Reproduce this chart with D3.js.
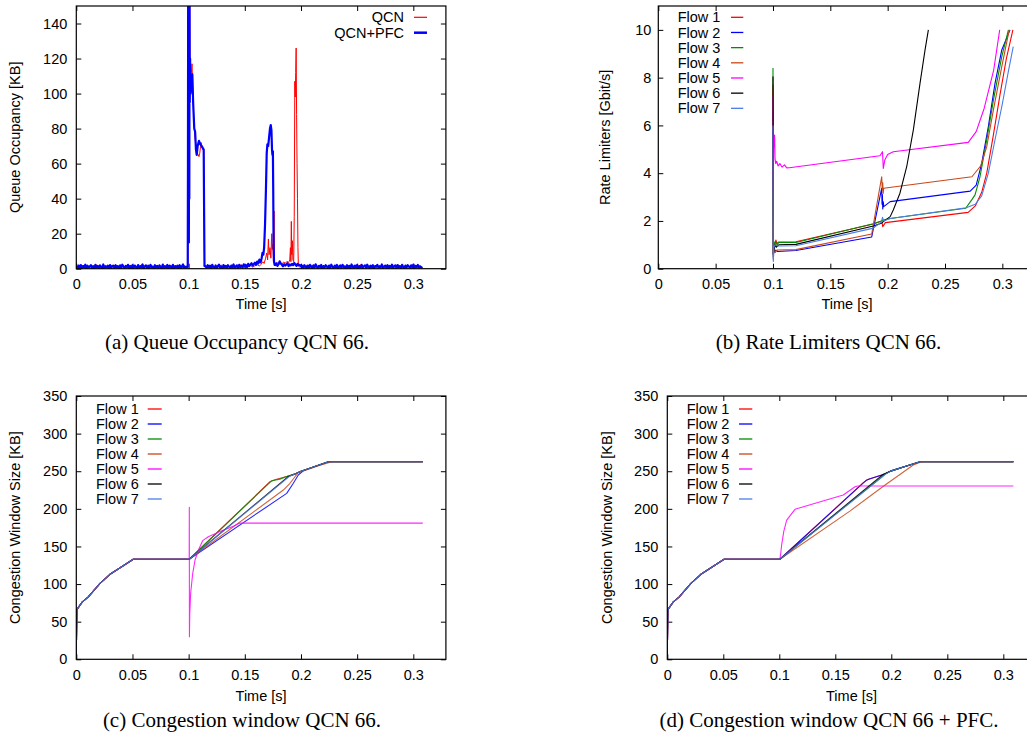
<!DOCTYPE html>
<html>
<head>
<meta charset="utf-8">
<script src="https://cdn.jsdelivr.net/npm/d3@7"></script>
<style>
  body { margin: 0; background: #fff; }
  svg text { font-family: "Liberation Sans", Arial, Helvetica, sans-serif; fill: #000; }
  svg text.caption { font-family: "Liberation Serif", "Times New Roman", serif; }
</style>
</head>
<body>
<script>
// ---------- shared axis values ----------
const timeMax = 0.329;
const timeTicks = [0, 0.05, 0.1, 0.15, 0.2, 0.25, 0.3];
const queueTicks = [0, 20, 40, 60, 80, 100, 120, 140];
const rateTicks = [0, 2, 4, 6, 8, 10];
const cwndTicks = [0, 50, 100, 150, 200, 250, 300, 350];

// ---------- (a) queue occupancy [KB] ----------
// quiet stretches are sampled at a fixed interval from a start time
const pfcStep = 0.001;
const pfcQuietA = [ // from 0.000 s
  1.2,0.3,1.8,0.6,2.1,0.4,1.5,0.9,2.3,0.2,1.7,0.8,1.1,2.0,0.5,1.4,0.3,2.2,0.7,1.6,
  0.4,1.9,1.0,0.2,2.4,0.6,1.3,0.9,1.8,0.3,2.1,0.5,1.2,1.7,0.4,2.0,0.8,1.5,0.2,1.9,
  0.6,2.3,1.1,0.4,1.6,0.9,2.2,0.3,1.4,0.7,2.0,0.5,1.8,1.0,0.3,2.1,0.6,1.5,0.8,2.4,
  0.2,1.3,1.9,0.5,1.7,0.4,2.2,0.9,1.2,0.3,2.0,0.7,1.6,0.4,1.9,1.1,0.3,2.3,0.6,1.4,
  0.8,2.1,0.2,1.7,1.0,0.5,2.2,0.4,1.5,0.9,1.8,0.3,2.0,0.6,1.3,2.4,0.5,1.1,0.7,1.6];
const pfcBurst1 = [
  [0.0992,1.0],[0.0994,60],[0.0996,175],[0.0998,30],[0.1000,172],[0.1002,15],[0.1004,168],
  [0.1006,40],[0.1008,160],[0.1010,95],[0.1013,120],[0.1016,100],[0.1025,108],[0.1033,111],
  [0.1040,95],[0.1050,80],[0.1058,78],[0.1065,68],[0.1072,65],[0.1080,70],[0.1092,73],
  [0.1105,71],[0.1116,70],[0.1125,69],[0.1134,68],[0.1138,30],[0.1141,1.5]];
const pfcQuietB = [ // from 0.115 s
  1.5,0.4,2.0,0.8,1.7,0.3,2.2,1.0,0.6,1.9,0.4,1.4,2.3,0.7,1.2,0.3,2.1,0.9,1.6,0.5,
  2.0,1.1,0.4,1.8,0.8,2.4,0.6,1.3,1.9,0.5,2.2,1.0,1.6,0.7,2.5,1.2,2.0,0.9,2.8,1.5,
  2.3,3.1,1.8,2.6,3.5,2.2,4.1,3.0,5.2,3.6];
const pfcBurst2 = [
  [0.1650,6],[0.1657,9],[0.1665,8],[0.1672,12],[0.1680,25],[0.1688,45],[0.1695,66],
  [0.1701,71],[0.1708,70],[0.1716,75],[0.1724,80],[0.1731,82],[0.1737,79],[0.1742,68],
  [0.1746,65],[0.1750,67],[0.1753,45],[0.1756,15],[0.1760,4],[0.1765,2.2]];
const pfcQuietC = [ // from 0.177 s
  2.1,3.0,1.6,2.5,4.2,2.9,2.2,1.4,2.6,1.8,2.3,3.1,1.5,2.4,1.9,2.7,2.0,3.3,2.5,1.6,
  2.8,1.9,2.2,1.3,1.7,0.6,2.0,1.1,0.4,1.8,0.7,2.2,1.4,0.3,1.9,0.8,2.5,1.2,0.5,1.6,
  0.9,2.1,0.4,1.5,0.7,2.0,1.2,0.3,1.8,0.6,2.3,1.0,0.5,1.7,0.8,2.1,0.3,1.4,1.9,0.6,
  2.2,0.9,1.3,0.4,2.0,0.7,1.6,0.3,2.4,1.1,0.6,1.8,0.9,2.1,0.4,1.5,0.8,2.2,0.5,1.3,
  1.9,0.6,2.3,1.0,0.4,1.7,0.8,2.0,0.3,1.5,1.1,2.2,0.6,1.4,0.9,2.4,0.5,1.2,1.8,0.7,
  2.0,0.4,1.6,0.9,2.3,0.6,1.3,1.9,0.3,2.1,0.8,1.5,0.5,2.2,1.0,0.4,1.8,0.7,2.0,1.2,
  0.5,1.9,0.8,2.3,0.4,1.6,1.0,2.1,0.6,1.4,0.9,0.3];

const qcnStep = 0.002;
const qcnQuietA = [ // from 0.000 s
  0.8,1.6,0.4,2.0,1.1,0.5,1.8,0.7,1.3,2.2,0.3,1.5,0.9,1.9,0.6,1.2,2.1,0.4,1.7,1.0,
  0.5,1.8,0.8,1.4,2.0,0.3,1.6,0.9,1.1,2.3,0.6,1.5,0.4,1.9,1.2,0.7,2.1,0.5,1.3,1.8,
  0.9,0.4,2.0,1.1,0.6,1.7,1.4,0.3,1.9,0.8];
const qcnBurst1 = [
  [0.0993,1],[0.0995,168],[0.0999,20],[0.1002,172],[0.1006,35],[0.1009,150],[0.1013,100],
  [0.1020,108],[0.1030,117],[0.1036,104],[0.1045,86],[0.1058,74],[0.1072,67],[0.1085,65],
  [0.1092,64],[0.1099,66],[0.1106,70],[0.1112,72],[0.1120,69],[0.1128,68],[0.1134,67],
  [0.1138,30],[0.1142,1.5]];
const qcnQuietB = [ // from 0.115 s
  1.4,0.6,2.0,1.1,0.4,1.7,0.9,2.2,0.5,1.3,1.8,0.7,2.1,1.0,0.4,1.6,2.3,0.8,1.5,1.2,
  2.0,0.9,1.7,2.4,1.5];
const qcnBurst2 = [
  [0.1645,2.5],[0.1660,4],[0.1672,3],[0.1685,6],[0.1695,9],[0.1703,5],[0.1710,17],
  [0.1716,8],[0.1724,12],[0.1732,6],[0.1740,20],[0.1745,11],[0.1750,14],[0.1755,4],
  [0.1760,33],[0.1764,3],[0.1772,2.2],[0.1785,3.6],[0.1800,2.8],[0.1815,4.0],[0.1830,2.6],
  [0.1845,3.8],[0.1860,3.1],[0.1875,4.2],[0.1890,3.5],[0.1900,5],[0.1906,12],[0.1910,4],
  [0.1914,27],[0.1918,8],[0.1923,16],[0.1928,5],[0.1935,4],[0.1940,30],[0.1945,107],
  [0.1949,98],[0.1953,112],[0.1957,126],[0.1961,88],[0.1965,60],[0.1969,40],[0.1973,12],
  [0.1977,1.5]];
const qcnQuietC = [ // from 0.199 s
  0.9,1.6,0.5,2.0,1.2,0.4,1.8,0.7,1.4,2.1,0.6,1.1,1.9,0.3,1.5,0.8,2.2,1.0,0.5,1.7,
  1.3,0.4,2.0,0.9,1.6,0.6,1.2,2.3,0.7,1.4,0.5,1.8,1.1,0.3,2.0,0.8,1.5,1.0,0.6,1.9,
  1.2,0.4,1.7,0.9,2.1,0.5,1.3,0.8,1.6,0.4,1.9,1.1,0.7,1.4,0.6];

// ---------- (b) rate limiters [Gbit/s], [time, rate] ----------
const rateFlow1 = [[0.1000,7.7],[0.1003,0.6],[0.1008,1.1],[0.1015,0.9],[0.1025,1.2],[0.1035,1.05],[0.1050,1.12],[0.1200,1.13],[0.1875,1.87],[0.1948,2.0],[0.1957,1.76],[0.1980,1.93],[0.2702,2.36],[0.2764,2.63],[0.2820,3.2],[0.2864,4.0],[0.2922,5.6],[0.2980,7.3],[0.3035,8.8],[0.3092,10]];
const rateFlow2 = [[0.1000,6.6],[0.1003,0.4],[0.1008,0.9],[0.1015,0.7],[0.1025,0.78],[0.1040,0.72],[0.1200,0.76],[0.1861,1.33],[0.1948,3.37],[0.1951,2.7],[0.1954,3.1],[0.1957,2.5],[0.1962,2.8],[0.1966,2.6],[0.2022,2.81],[0.2720,3.25],[0.2772,3.5],[0.2820,4.41],[0.2878,5.95],[0.2936,7.76],[0.2995,9.16],[0.3067,10]];
const rateFlow3 = [[0.1000,8.4],[0.1003,0.5],[0.1008,1.0],[0.1020,1.15],[0.1035,1.0],[0.1050,1.1],[0.1200,1.1],[0.1875,1.88],[0.1945,2.0],[0.1970,2.05],[0.2022,2.1],[0.2680,2.53],[0.2733,2.88],[0.2762,3.09],[0.2805,3.85],[0.2864,5.39],[0.2922,7.06],[0.2995,8.88],[0.3053,10]];
const rateFlow4 = [[0.1000,7.5],[0.1003,0.5],[0.1008,0.85],[0.1020,0.68],[0.1035,0.78],[0.1200,0.8],[0.1861,1.45],[0.1948,3.85],[0.1953,3.3],[0.1957,3.6],[0.1961,3.15],[0.1965,3.37],[0.2735,3.85],[0.2812,4.31],[0.2864,5.11],[0.2922,6.65],[0.2995,8.46],[0.3060,10]];
const rateFlow5 = [[0.1000,7.2],[0.1003,3.2],[0.1006,5.5],[0.1010,5.1],[0.1014,5.6],[0.1018,4.6],[0.1024,4.4],[0.1032,4.5],[0.1045,4.3],[0.1060,4.4],[0.1080,4.25],[0.1100,4.35],[0.1120,4.22],[0.1143,4.23],[0.1933,4.73],[0.1955,4.9],[0.1962,4.2],[0.1975,4.55],[0.2000,4.78],[0.2049,4.9],[0.2703,5.29],[0.2772,5.74],[0.2842,6.72],[0.2925,8.33],[0.2977,10]];
const rateFlow6 = [[0.1000,8.05],[0.1003,0.6],[0.1008,0.75],[0.1018,1.0],[0.1030,0.9],[0.1050,1.0],[0.1200,1.02],[0.1875,1.79],[0.1945,1.9],[0.1962,1.97],[0.2022,2.18],[0.2049,2.46],[0.2107,3.16],[0.2166,4.27],[0.2224,5.81],[0.2282,7.76],[0.2326,9.16],[0.2355,10]];
const rateFlow7 = [[0.1000,6.0],[0.1003,0.3],[0.1008,0.9],[0.1018,1.0],[0.1040,0.95],[0.1200,0.96],[0.1875,1.7],[0.1945,1.95],[0.1955,2.15],[0.1965,2.0],[0.2022,2.1],[0.2685,2.55],[0.2764,2.7],[0.2820,3.05],[0.2878,4.0],[0.2936,5.4],[0.3000,6.9],[0.3050,8.2],[0.3095,9.3]];

// ---------- (c), (d) congestion window [KB], [time, size] ----------
// slow-start ramp shared by every flow, up to the start of the incast at 0.1 s
const cwndRamp = [[0,5],[0.0005,66],[0.0052,76],[0.0107,83],[0.0211,101],[0.0300,113],[0.0404,123],[0.0507,133],[0.1005,133]];

const cwndQcn1 = [[0.1724,236],[0.1775,239],[0.1873,243],[0.1950,246.5],[0.2000,250],[0.2244,262.7],[0.3084,262.7]];
const cwndQcn2 = [[0.1873,220.6],[0.1932,234],[0.1976,245],[0.2021,250.5],[0.2244,262.7],[0.3084,262.7]];
const cwndQcn3 = [[0.1740,237.4],[0.1813,239.5],[0.1873,243],[0.1950,246.5],[0.2000,250],[0.2244,262.7],[0.3084,262.7]];
const cwndQcn4 = [[0.1843,225],[0.1902,234],[0.1947,242.7],[0.1976,248],[0.2150,257],[0.2275,262.7],[0.3084,262.7]];
const cwndQcn5 = [[0.1006,202],[0.1007,30],[0.1010,60],[0.1018,88],[0.1036,114],[0.1057,132],[0.1086,145],[0.1125,157.7],[0.1175,163],[0.1280,170],[0.1398,177],[0.1451,181],[0.3084,181]];
const cwndQcn6 = [[0.1888,243],[0.1950,246.5],[0.2000,250],[0.2244,262.7],[0.3084,262.7]];
const cwndQcn7 = [[0.1900,243.5],[0.1950,246.5],[0.2000,250],[0.2244,262.7],[0.3084,262.7]];

const cwndPfc1 = [[0.1750,234.8],[0.1795,239.3],[0.1943,246.3],[0.2000,250.5],[0.2256,262.7],[0.3090,262.7]];
const cwndPfc2 = [[0.1780,238.4],[0.1825,240.6],[0.1943,246.3],[0.2000,250.5],[0.2256,262.7],[0.3090,262.7]];
const cwndPfc3 = [[0.1953,247],[0.2000,250.5],[0.2256,262.7],[0.3090,262.7]];
const cwndPfc4 = [[0.1630,197],[0.1929,230],[0.2196,258.3],[0.2271,262.7],[0.3090,262.7]];
const cwndPfc5 = [[0.1012,140],[0.1021,152],[0.1040,170],[0.1066,185],[0.1140,199.4],[0.1571,218.4],[0.1676,229.4],[0.1700,230.4],[0.3090,230.4]];
const cwndPfc6 = [[0.1929,246],[0.2000,250.5],[0.2256,262.7],[0.3090,262.7]];
const cwndPfc7 = [[0.1953,246.5],[0.2000,250.5],[0.2256,262.7],[0.3090,262.7]];

const flowNames = ["Flow 1", "Flow 2", "Flow 3", "Flow 4", "Flow 5", "Flow 6", "Flow 7"];
const flowColors = ["#ff0000", "#0000ff", "#008c00", "#c8481a", "#ff00ff", "#000000", "#4a7de6"];

// ---------- helpers ----------
function quiet(values, start, step) {
  return values.map((v, i) => [start + i * step, v]);
}
const pfcSeries = [].concat(
  quiet(pfcQuietA, 0, pfcStep), pfcBurst1,
  quiet(pfcQuietB, 0.115, pfcStep), pfcBurst2,
  quiet(pfcQuietC, 0.177, pfcStep));
const qcnSeries = [].concat(
  quiet(qcnQuietA, 0, qcnStep), qcnBurst1,
  quiet(qcnQuietB, 0.115, qcnStep), qcnBurst2,
  quiet(qcnQuietC, 0.199, qcnStep));

const svg = d3.select("body").append("svg")
  .attr("width", 1027).attr("height", 744);

const FONT = 14.5;

function styleAxis(sel) {
  sel.select(".domain").remove();
  sel.attr("font-family", null).attr("font-size", null);
  sel.selectAll("line").attr("stroke", "#000").attr("stroke-width", 1);
  sel.selectAll("text").style("font-size", FONT + "px");
}

function panel(p) {
  const x = d3.scaleLinear().domain([0, timeMax]).range([p.left, p.right]);
  const y = d3.scaleLinear().domain(p.yDomain).range([p.bottom, p.top]);
  const g = svg.append("g");

  g.append("clipPath").attr("id", "clip-" + p.id)
    .append("rect")
    .attr("x", p.left).attr("y", p.top)
    .attr("width", p.right - p.left).attr("height", p.bottom - p.top);

  // mirrored inward ticks on all four sides
  g.append("g").attr("transform", `translate(0,${p.bottom})`)
    .call(d3.axisBottom(x).tickValues(timeTicks).tickFormat(d3.format("~g")).tickSize(-5).tickPadding(10))
    .call(styleAxis);
  g.append("g").attr("transform", `translate(0,${p.top})`)
    .call(d3.axisTop(x).tickValues(timeTicks).tickFormat("").tickSize(-5))
    .call(styleAxis);
  g.append("g").attr("transform", `translate(${p.left},0)`)
    .call(d3.axisLeft(y).tickValues(p.yTicks).tickSize(-5).tickPadding(p.yPad))
    .call(styleAxis);
  g.append("g").attr("transform", `translate(${p.right},0)`)
    .call(d3.axisRight(y).tickValues(p.yTicks).tickFormat("").tickSize(-5))
    .call(styleAxis);

  const line = d3.line().x(d => x(d[0])).y(d => y(d[1]));
  const plot = g.append("g").attr("clip-path", `url(#clip-${p.id})`);
  p.series.forEach(s => {
    plot.append("path").datum(s.data)
      .attr("fill", "none")
      .attr("stroke", s.color)
      .attr("stroke-width", s.width)
      .attr("stroke-opacity", s.opacity || 1)
      .attr("stroke-linejoin", "round")
      .attr("d", line);
  });

  g.append("rect")
    .attr("x", p.left).attr("y", p.top)
    .attr("width", p.right - p.left).attr("height", p.bottom - p.top)
    .attr("fill", "none").attr("stroke", "#000").attr("stroke-width", 1.2);

  // axis titles
  g.append("text")
    .attr("transform", `translate(${p.ylabelX},${(p.top + p.bottom) / 2}) rotate(-90)`)
    .attr("text-anchor", "middle").attr("dy", "0.35em")
    .style("font-size", FONT + "px")
    .text(p.ylabel);
  g.append("text")
    .attr("x", (p.left + p.right) / 2).attr("y", p.timeY)
    .attr("text-anchor", "middle")
    .style("font-size", FONT + "px")
    .text("Time [s]");

  // legend
  const lg = p.legend;
  lg.items.forEach((it, i) => {
    const cy = lg.y + i * lg.step;
    g.append("text")
      .attr("x", lg.textX).attr("y", cy).attr("dy", "0.35em")
      .attr("text-anchor", lg.anchor)
      .style("font-size", FONT + "px")
      .text(it.label);
    g.append("line")
      .attr("x1", lg.lineX1).attr("x2", lg.lineX2)
      .attr("y1", cy).attr("y2", cy)
      .attr("stroke", it.color).attr("stroke-width", it.width);
  });

  // caption
  svg.append("text").attr("class", "caption")
    .attr("x", p.captionX).attr("y", p.captionY)
    .attr("text-anchor", "middle")
    .style("font-size", "21px")
    .text(p.caption);
}

function flowSeries(list, width, opacity) {
  return list.map((d, i) => ({ data: d, color: flowColors[i], width: width, opacity: opacity }));
}
function flowLegend(textX, lineX1, lineX2, yTop, step) {
  return {
    textX, lineX1, lineX2, y: yTop, step, anchor: "start",
    items: flowNames.map((n, i) => ({ label: n, color: flowColors[i], width: 1.3 }))
  };
}

// (a) Queue occupancy
panel({
  id: "a", left: 76.3, right: 445.9, top: 6, bottom: 268.7,
  yDomain: [0, 150], yTicks: queueTicks, yPad: 9,
  ylabel: "Queue Occupancy [KB]", ylabelX: 15, timeY: 309,
  series: [
    { data: qcnSeries, color: "#ff0000", width: 1 },
    { data: pfcSeries, color: "#0000ff", width: 2.2 }
  ],
  legend: {
    textX: 404, lineX1: 414, lineX2: 427, y: 17.3, step: 15.4, anchor: "end",
    items: [
      { label: "QCN", color: "#ff0000", width: 1.2 },
      { label: "QCN+PFC", color: "#0000ff", width: 2.5 }
    ]
  },
  caption: "(a) Queue Occupancy QCN 66.", captionX: 237, captionY: 349
});

// (b) Rate limiters
panel({
  id: "b", left: 658.3, right: 1035.6, top: 6, bottom: 268.7,
  yDomain: [0, 11], yTicks: rateTicks, yPad: 7,
  ylabel: "Rate Limiters [Gbit/s]", ylabelX: 605, timeY: 309,
  series: flowSeries([rateFlow1, rateFlow2, rateFlow3, rateFlow4, rateFlow5, rateFlow6, rateFlow7], 1.1, 1),
  legend: flowLegend(677.7, 731, 743.3, 17.3, 15.17),
  caption: "(b) Rate Limiters QCN 66.", captionX: 828.5, captionY: 349
});

// (c) Congestion window, QCN
panel({
  id: "c", left: 76.3, right: 445.9, top: 396, bottom: 659.3,
  yDomain: [0, 350], yTicks: cwndTicks, yPad: 9,
  ylabel: "Congestion Window Size [KB]", ylabelX: 15, timeY: 701,
  series: flowSeries([cwndQcn1, cwndQcn2, cwndQcn3, cwndQcn4, cwndQcn5, cwndQcn6, cwndQcn7]
    .map(d => cwndRamp.concat(d)), 1.1, 0.85),
  legend: flowLegend(96, 147.7, 161.7, 409, 15),
  caption: "(c) Congestion window QCN 66.", captionX: 242, captionY: 727
});

// (d) Congestion window, QCN + PFC
panel({
  id: "d", left: 667.3, right: 1035.8, top: 396, bottom: 659.3,
  yDomain: [0, 350], yTicks: cwndTicks, yPad: 9,
  ylabel: "Congestion Window Size [KB]", ylabelX: 606.5, timeY: 701,
  series: flowSeries([cwndPfc1, cwndPfc2, cwndPfc3, cwndPfc4, cwndPfc5, cwndPfc6, cwndPfc7]
    .map(d => cwndRamp.concat(d)), 1.1, 0.85),
  legend: flowLegend(686.7, 739, 752.3, 409, 15),
  caption: "(d) Congestion window QCN 66 + PFC.", captionX: 829, captionY: 727
});
</script>
</body>
</html>
